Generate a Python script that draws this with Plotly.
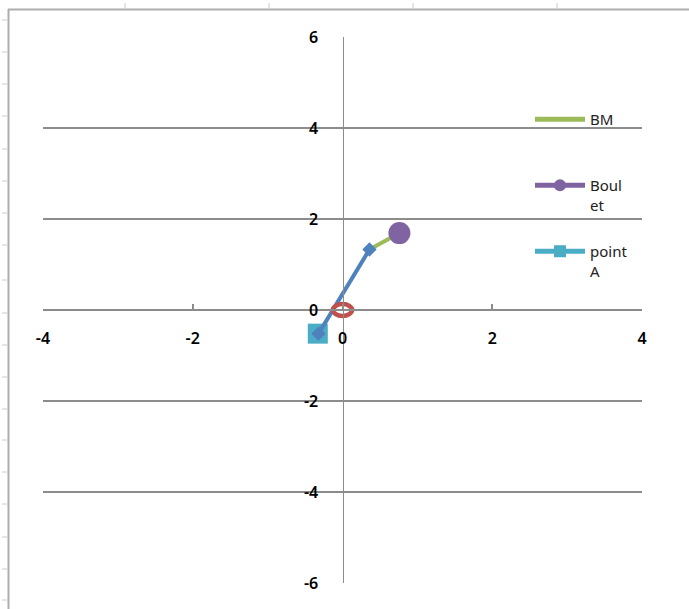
import plotly.graph_objects as go

# ---- data ----
bm_x = [0.36, 0.76]
bm_y = [1.33, 1.69]

boulet_x = [0.76]
boulet_y = [1.69]

pointA_x = [-0.33]
pointA_y = [-0.52]

segment_x = [-0.32, 0.36]
segment_y = [-0.52, 1.33]

circle_x = [0.13, 0.09, 0.0, -0.09, -0.13, -0.09, 0.0, 0.09, 0.13]
circle_y = [0.0, 0.09, 0.13, 0.09, 0.0, -0.09, -0.13, -0.09, 0.0]

x_ticks = [-4, -2, 0, 2, 4]
y_ticks = [-6, -4, -2, 0, 2, 4, 6]

series_names = ["BM<br>\u00a0", "Boul<br>et", "point<br>A"]

GREEN = "#9BBB59"
PURPLE = "#8064A2"
CYAN = "#4BACC6"
BLUE = "#4F81BD"
RED = "#C0504D"
GRID = "#8C8C8C"
FONT = "Noto Sans"

W, H = 689, 609
L, R, T, B = 43, 642, 37, 583


def px(xp):
    return (xp - L) / (R - L)


def py(yp):
    return 1 - (yp - T) / (B - T)


fig = go.Figure()

fig.add_trace(go.Scatter(x=bm_x, y=bm_y, mode="lines", name=series_names[0],
                         line=dict(color=GREEN, width=4),
                         legendgroup="a", legendrank=1))
fig.add_trace(go.Scatter(x=boulet_x, y=boulet_y, mode="lines+markers",
                         name=series_names[1],
                         line=dict(color=PURPLE, width=4),
                         marker=dict(symbol="circle", size=22, color=PURPLE),
                         legendgroup="b", legendrank=2))
fig.add_trace(go.Scatter(x=pointA_x, y=pointA_y, mode="lines+markers",
                         name=series_names[2],
                         line=dict(color=CYAN, width=4),
                         marker=dict(symbol="square", size=20, color=CYAN),
                         legendgroup="c", legendrank=3))
fig.add_trace(go.Scatter(x=segment_x, y=segment_y, mode="lines+markers",
                         line=dict(color=BLUE, width=4),
                         marker=dict(symbol="diamond", size=11, color=BLUE),
                         showlegend=False))
fig.add_trace(go.Scatter(x=circle_x, y=circle_y, mode="lines",
                         line=dict(color=RED, width=4.5, shape="spline"),
                         showlegend=False))

shapes = []
# Excel chart border
shapes.append(dict(type="line", xref="paper", yref="paper",
                   x0=px(8), x1=px(700), y0=py(9.5), y1=py(9.5),
                   line=dict(color="#ADADAD", width=2)))
shapes.append(dict(type="line", xref="paper", yref="paper",
                   x0=px(8.5), x1=px(8.5), y0=py(9), y1=py(620),
                   line=dict(color="#ADADAD", width=2)))
# spreadsheet column marks along top
for cx in [125, 269, 413, 557]:
    shapes.append(dict(type="line", xref="paper", yref="paper",
                       x0=px(cx), x1=px(cx), y0=py(3), y1=py(8),
                       line=dict(color="#CCCCCC", width=1)))
# spreadsheet row marks along left
for ry in [20, 52, 84, 116, 149, 181, 213, 245, 280, 313, 345, 377,
           409, 440, 472, 504, 537, 569, 600]:
    shapes.append(dict(type="line", xref="paper", yref="paper",
                       x0=px(2), x1=px(7), y0=py(ry), y1=py(ry),
                       line=dict(color="#CCCCCC", width=1)))

tickfont = dict(family=FONT, size=16, color="#000000", weight=600)

fig.update_layout(
    width=W, height=H,
    margin=dict(l=L, r=W - R, t=T, b=H - B),
    paper_bgcolor="white", plot_bgcolor="white",
    font=dict(family=FONT, size=15, color="#000000"),
    showlegend=True,
    legend=dict(x=px(530), y=py(103), xanchor="left", yanchor="top",
                bgcolor="rgba(0,0,0,0)",
                font=dict(family=FONT, size=15, color="#222222"),
                itemwidth=50, itemsizing="constant", valign="top",
                traceorder="grouped", tracegroupgap=24),
    shapes=shapes,
    xaxis=dict(range=[-4, 4], tickvals=x_ticks, ticktext=[str(v) for v in x_ticks],
               showgrid=False, zeroline=False,
               showline=True, linecolor=GRID, linewidth=2,
               anchor="free", position=0.5,
               ticks="inside", ticklen=5, tickcolor=GRID, tickwidth=1.5,
               ticklabelstandoff=14, tickfont=tickfont),
    yaxis=dict(range=[-6, 6], tickvals=y_ticks, ticktext=[str(v) for v in y_ticks],
               showgrid=True, gridcolor=GRID, gridwidth=2,
               zeroline=False,
               showline=True, linecolor=GRID, linewidth=1.2,
               anchor="free", position=0.5,
               ticks="", ticklabelstandoff=21, tickfont=tickfont),
)

fig.write_html("out.html", config={"displayModeBar": False},
               post_script="document.body.style.margin='0px';")
